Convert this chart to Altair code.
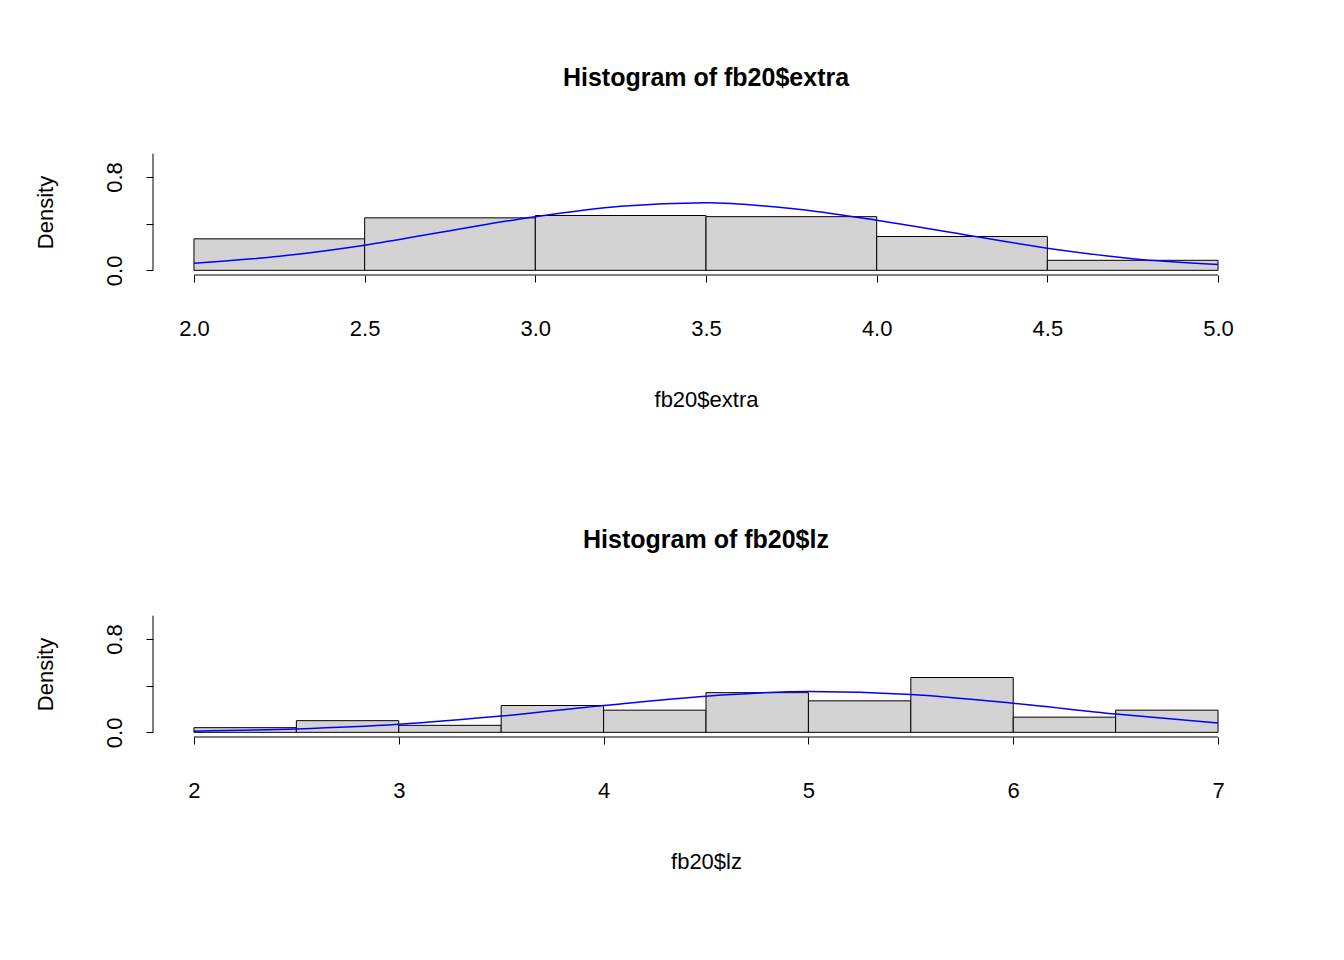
import altair as alt
import pandas as pd

# top panel: fb20$extra
extra_bins = [2.0, 2.5, 3.0, 3.5, 4.0, 4.5]
extra_density = [0.27, 0.45, 0.47, 0.46, 0.29, 0.086]
extra_curve_x = [2.0, 2.25, 2.5, 2.75, 3.0, 3.25, 3.5, 3.75, 4.0, 4.25, 4.5, 4.75, 5.0]
extra_curve_y = [0.06, 0.12, 0.215, 0.34, 0.46, 0.55, 0.58, 0.53, 0.43, 0.31, 0.19, 0.10, 0.05]

# bottom panel: fb20$lz
lz_bins = [2.0, 2.5, 3.0, 3.5, 4.0, 4.5, 5.0, 5.5, 6.0, 6.5]
lz_density = [0.04, 0.10, 0.06, 0.23, 0.19, 0.34, 0.27, 0.47, 0.13, 0.19]
lz_curve_x = [2.0, 2.5, 3.0, 3.5, 4.0, 4.5, 5.0, 5.5, 6.0, 6.5, 7.0]
lz_curve_y = [0.01, 0.029, 0.069, 0.139, 0.23, 0.31, 0.35, 0.325, 0.25, 0.157, 0.08]

FONT = "Liberation Sans"
W, H = 1106, 126


def hist_panel(bins, dens, cx, cy, xmin, xmax, xticks, fmt, name):
    pad = (xmax - xmin) * 0.04
    xs = alt.Scale(domain=[xmin - pad, xmax + pad], nice=False, zero=False)
    ys = alt.Scale(domain=[-0.04, 1.04], nice=False)
    bars = pd.DataFrame({"lo": bins, "hi": [b + 0.5 for b in bins], "d": dens, "z": 0.0})
    curve = pd.DataFrame({"x": cx, "y": cy})

    rect = alt.Chart(bars).mark_rect(fill="#d3d3d3", stroke="black", strokeWidth=1).encode(
        x=alt.X("lo:Q", scale=xs,
                axis=alt.Axis(values=xticks, format=fmt, domain=False, tickSize=7,
                              tickColor="black", labelFontSize=22, labelPadding=36,
                              labelColor="black", labelFont=FONT, grid=False,
                              labelOverlap=False,
                              title=name, titleFontSize=22, titleFont=FONT,
                              titleFontWeight="normal", titlePadding=50)),
        x2="hi:Q",
        y=alt.Y("z:Q", scale=ys,
                axis=alt.Axis(values=[0, 0.2, 0.4, 0.6, 0.8, 1.0], domain=False, tickSize=7,
                              tickColor="black", labelFontSize=22, labelPadding=32,
                              labelAngle=270, labelAlign="center", labelBaseline="middle",
                              labelColor="black", labelFont=FONT, grid=False,
                              labelOverlap=False,
                              labelExpr="datum.value == 0 ? '0.0' : (datum.value == 0.8 ? '0.8' : '')",
                              title="Density", titleFontSize=22, titleFont=FONT,
                              titleFontWeight="normal", titlePadding=46)),
        y2="d:Q",
    )
    line = alt.Chart(curve).mark_line(color="blue", strokeWidth=1.5, interpolate="monotone").encode(
        x=alt.X("x:Q", scale=xs), y=alt.Y("y:Q", scale=ys)
    )
    xdom = alt.Chart(pd.DataFrame({"a": [xmin], "b": [xmax]})).mark_rule(color="black").encode(
        x=alt.X("a:Q", scale=xs), x2="b:Q", y=alt.value(H)
    )
    ydom = alt.Chart(pd.DataFrame({"a": [0.0], "b": [1.0]})).mark_rule(color="black").encode(
        y=alt.Y("a:Q", scale=ys), y2="b:Q", x=alt.value(0)
    )
    return alt.layer(rect, line, xdom, ydom).properties(
        width=W, height=H,
        title=alt.TitleParams("Histogram of " + name, fontSize=25, font=FONT,
                              fontWeight="bold", anchor="middle", offset=58),
    )


top = hist_panel(extra_bins, extra_density, extra_curve_x, extra_curve_y,
                 2.0, 5.0, [2.0, 2.5, 3.0, 3.5, 4.0, 4.5, 5.0], ".1f", "fb20$extra")
bottom = hist_panel(lz_bins, lz_density, lz_curve_x, lz_curve_y,
                    2.0, 7.0, [2, 3, 4, 5, 6, 7], "d", "fb20$lz")

chart = alt.vconcat(top, bottom, spacing=118).properties(
    padding={"left": 26, "top": 58, "right": 10, "bottom": 10}
).configure(background="white").configure_view(stroke=None)

chart.save("out.html", embed_options={"renderer": "svg", "actions": False})
